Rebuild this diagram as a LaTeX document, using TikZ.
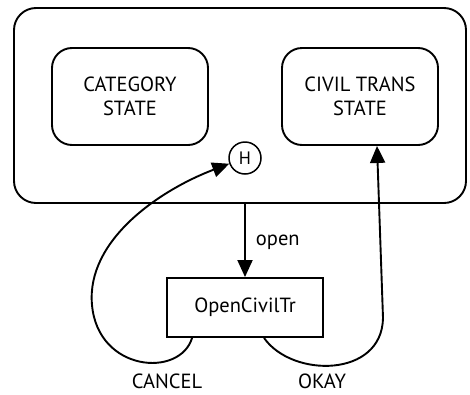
\documentclass[tikz,border=0pt]{standalone}
\usepackage{fontspec}
\setmainfont{PT Sans}
\usetikzlibrary{arrows.meta,calc}
\begin{document}
\begin{tikzpicture}[x=1pt,y=-1pt,
  line width=1.9pt,
  every node/.style={font=\fontsize{20.5}{24}\selectfont},
  statebox/.style={draw,rounded corners=20pt,minimum width=156pt,minimum height=97pt,align=center},
  actbox/.style={draw,minimum width=156pt,minimum height=59pt},
  histnode/.style={draw,circle,minimum size=32pt,inner sep=0pt,line width=1.5pt,font=\fontsize{18}{20}\selectfont},
  tip/.style={-{Triangle[length=17pt,width=15pt]}},
  lbl/.style={inner sep=0pt}]
\useasboundingbox (0,0) rectangle (470,394);
% composite state
\node[draw,rounded corners=22pt,minimum width=452pt,minimum height=195pt] (outer) at (240,105.5) {};
\node[statebox] (cat) at (130,96.5) {CATEGORY\\STATE};
\node[statebox] (civ) at (360,96.5) {CIVIL TRANS\\STATE};
\node[histnode] (H) at (245,158) {H};
% activity box
\node[actbox] (act) at (245,307.5) {OpenCivilTr};
% open transition
\draw[tip] (act.north |- outer.south) -- node[lbl,anchor=west,xshift=10pt,yshift=-2pt] {open} (act.north);
% CANCEL loop back to the history state
\coordinate (cstart) at ($(act.south west)+(26,0)$);
\draw[tip] (cstart) .. controls (180,378) and (98,372) .. (92,305)
  .. controls (86,240) and (160,190) .. (H.200);
\node[lbl] (cancel) at (167,381) {CANCEL};
% OKAY loop to the civil trans state
\coordinate (ostart) at ($(act.south west)+(98,0)$);
\draw[tip] (ostart) .. controls (292,378) and (382,378) .. (383,318)
  -- ([xshift=17pt]civ.south);
\node[lbl] (okay) at (322,381) {OKAY};
\end{tikzpicture}
\end{document}
